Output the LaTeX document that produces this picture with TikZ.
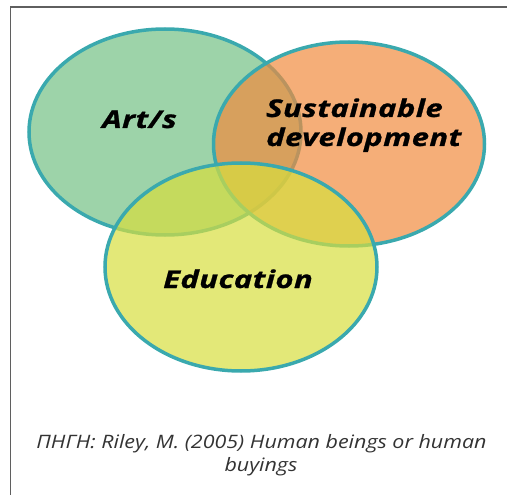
\documentclass[tikz,border=0pt]{standalone}
\usepackage{fontspec}
\setmainfont{Open Sans}
\newfontfamily\labfont{Open Sans}[FakeStretch=1.27, LetterSpace=1.5, FakeBold=1]
\newfontfamily\capfont{Open Sans}[FakeStretch=1.16]
\usetikzlibrary{shapes.geometric}
\definecolor{tealline}{RGB}{58,169,174}
\definecolor{artfill}{RGB}{157,211,169}
\definecolor{sdfill}{RGB}{241,139,62}
\definecolor{edfill}{RGB}{215,222,62}
\definecolor{framegray}{RGB}{95,95,95}
\begin{document}
\begin{tikzpicture}[x=1pt,y=-1pt,
  venn/.style={ellipse, draw=tealline, line width=3.5pt, inner sep=0pt},
  lab/.style={font=\labfont\fontsize{24.5}{28}\selectfont\bfseries\itshape, align=left, inner sep=0pt},
  captext/.style={font=\capfont\fontsize{18.5}{22}\selectfont\itshape, text=black!80, inner sep=0pt}]
\path[use as bounding box] (0,0) rectangle (507,495);
\draw[framegray, line width=1.5pt] (10.5,496) -- (10.5,7) -- (508,7);
\node[venn, fill=artfill, minimum width=272pt, minimum height=206pt] (art) at (165,132) {};
\node[venn, fill=sdfill, fill opacity=0.7, minimum width=271pt, minimum height=204pt] (sd) at (349,144) {};
\node[venn, fill=edfill, fill opacity=0.7, minimum width=272pt, minimum height=208pt] (ed) at (241,267) {};
\node[lab, anchor=base] (artlab) at (139.5,128) {Art/s};
\node[lab, anchor=base west] (sdlab1) at (266,117) {Sustainable};
\node[lab, anchor=base west] (sdlab2) at (266,146) {development};
\node[lab, anchor=base] (edlab) at (238,288) {Education};
\node[captext, anchor=base] (cap1) at (261.5,448) {ΠΗΓΗ: Riley, M. (2005) Human beings or human};
\node[captext, anchor=base] (cap2) at (261,471) {buyings};
\end{tikzpicture}
\end{document}
